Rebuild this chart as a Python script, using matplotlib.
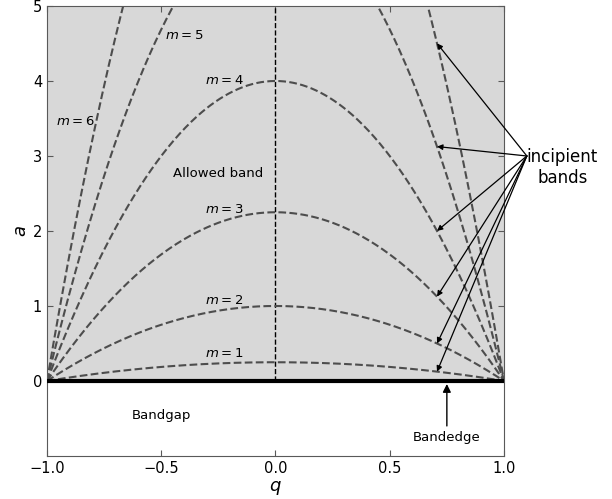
import numpy as np
import matplotlib.pyplot as plt

# band orders and where their labels go
orders = [1, 2, 3, 4, 5, 6]
label_q = [-0.225, -0.225, -0.225, -0.225, -0.40, -0.877]
label_a = [0.37, 1.07, 2.28, 4.0, 4.61, 3.46]

# incipient band arrows point at the curves here
arrow_q = 0.707
arrow_tail = (1.1, 3.0)

q = np.linspace(-1, 1, 400)

fig = plt.figure(figsize=(6.12, 4.99), dpi=100)
ax = fig.add_axes([0.0768, 0.0862, 0.7467, 0.9018])

# allowed region above the band edge
ax.axhspan(0, 5, color='#d8d8d8', zorder=0)
ax.plot([-1, 1], [0, 0], color='k', lw=3, zorder=3)
ax.plot([0, 0], [0, 5], color='k', lw=1, ls='--', zorder=2)

for m, lq, la in zip(orders, label_q, label_a):
    a = (m / 2) ** 2 * (1 - q ** 2)
    ax.plot(q, a, color='0.3', lw=1.5, ls='--', zorder=2)
    ax.text(lq, la, r'$m = %d$' % m, ha='center', va='center', fontsize=9.5)
    # arrow from the "incipient bands" label
    ax.annotate('', xy=(arrow_q, (m / 2) ** 2 * (1 - arrow_q ** 2)), xytext=arrow_tail,
                arrowprops=dict(arrowstyle='-|>', color='k', lw=0.9, mutation_scale=8,
                                shrinkA=0, shrinkB=0),
                annotation_clip=False)

ax.text(1.255, 2.85, 'incipient\nbands', ha='center', va='center', fontsize=12,
        multialignment='center', clip_on=False)
ax.text(-0.25, 2.77, 'Allowed band', ha='center', va='center', fontsize=9.5)
ax.text(-0.497, -0.46, 'Bandgap', ha='center', va='center', fontsize=9.5)
ax.annotate('Bandedge', xy=(0.75, -0.04), xytext=(0.75, -0.76), ha='center', va='center',
            fontsize=9.5,
            arrowprops=dict(arrowstyle='-|>', color='k', lw=1, mutation_scale=12, shrinkB=0))

ax.set_xlim(-1, 1)
ax.set_ylim(-1, 5)
ax.set_xticks([-1.0, -0.5, 0.0, 0.5, 1.0])
ax.set_yticks([0, 1, 2, 3, 4, 5])
ax.set_xlabel(r'$q$', fontsize=13, labelpad=2)
ax.set_ylabel(r'$a$', fontsize=13, labelpad=2)
ax.tick_params(direction='in', top=True, right=True, labelsize=10.5, length=4,
               color='0.35')
for s in ax.spines.values():
    s.set_color('0.35')

fig.savefig('out.png', dpi=100)
